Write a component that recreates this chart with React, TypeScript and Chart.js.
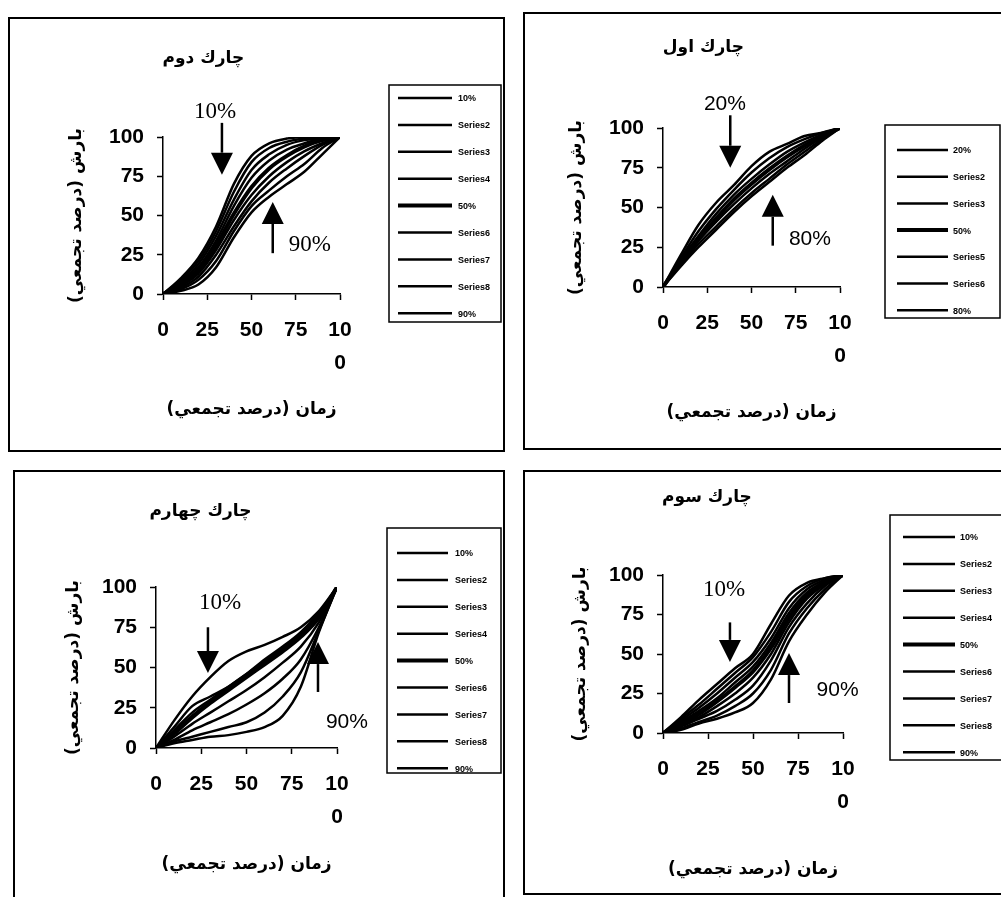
import React, { useEffect, useRef } from 'react';
import { Chart, registerables } from 'chart.js';

Chart.register(...registerables);

// ---------------- data ----------------
const xValues = [0, 10, 20, 30, 40, 50, 60, 70, 80, 90, 100];
const xTickLabels: (string | string[])[] = ['0', '25', '50', '75', ['10', '0']];
const yTickLabels = ['0', '25', '50', '75', '100'];

const yAxisTitle = 'بارش (درصد تجمعي)';
const xAxisTitle = 'زمان (درصد تجمعي)';

const nineLabels = ['10%', 'Series2', 'Series3', 'Series4', '50%', 'Series6', 'Series7', 'Series8', '90%'];
const sevenLabels = ['20%', 'Series2', 'Series3', '50%', 'Series5', 'Series6', '80%'];

// چارك اول (first quartile)
const q1Title = 'چارك اول';
const q1Values = [
  [0, 20, 39, 53, 64, 76, 85, 90, 95, 97, 100],
  [0, 18, 35, 49, 61, 72, 81, 88, 93, 97, 100],
  [0, 17, 32, 46, 58, 68, 77, 85, 91, 96, 100],
  [0, 16, 30, 43, 55, 65, 74, 82, 89, 95, 100],
  [0, 15, 29, 41, 52, 62, 71, 79, 87, 94, 100],
  [0, 14, 27, 38, 49, 59, 68, 77, 85, 93, 100],
  [0, 13, 25, 36, 47, 57, 66, 75, 83, 92, 100],
];
// چارك دوم (second quartile)
const q2Title = 'چارك دوم';
const q2Values = [
  [0, 10, 23, 43, 70, 88, 96, 99, 100, 100, 100],
  [0, 9, 21, 40, 65, 84, 93, 97, 99, 100, 100],
  [0, 8, 19, 37, 60, 79, 89, 95, 98, 99, 100],
  [0, 7, 17, 34, 56, 74, 85, 92, 96, 99, 100],
  [0, 6, 15, 31, 51, 68, 80, 88, 94, 98, 100],
  [0, 5, 13, 28, 47, 63, 75, 84, 91, 96, 100],
  [0, 4, 11, 25, 43, 59, 71, 80, 88, 95, 100],
  [0, 3, 9, 21, 40, 56, 66, 75, 83, 93, 100],
  [0, 2, 6, 17, 36, 52, 62, 70, 78, 89, 100],
];
// چارك سوم (third quartile)
const q3Title = 'چارك سوم';
const q3Values = [
  [0, 10, 21, 31, 41, 50, 69, 87, 95, 98, 100],
  [0, 9, 18, 28, 38, 48, 64, 83, 93, 98, 100],
  [0, 8, 16, 25, 35, 45, 60, 79, 91, 97, 100],
  [0, 7, 14, 22, 32, 42, 57, 76, 89, 96, 100],
  [0, 6, 12, 20, 29, 39, 54, 73, 87, 95, 100],
  [0, 5, 10, 17, 25, 35, 50, 70, 85, 94, 100],
  [0, 4, 9, 14, 21, 30, 46, 67, 82, 93, 100],
  [0, 3, 7, 11, 17, 25, 40, 63, 79, 91, 100],
  [0, 2, 6, 9, 13, 19, 34, 58, 75, 89, 100],
];
// چارك چهارم (fourth quartile)
const q4Title = 'چارك چهارم';
const q4Values = [
  [0, 17, 32, 44, 54, 60, 64, 69, 75, 85, 100],
  [0, 13, 26, 32, 38, 46, 55, 63, 72, 84, 100],
  [0, 11, 22, 30, 38, 46, 54, 62, 71, 83, 100],
  [0, 10, 20, 29, 37, 45, 53, 61, 70, 82, 100],
  [0, 9, 19, 28, 36, 44, 52, 60, 69, 81, 100],
  [0, 7, 15, 22, 29, 36, 44, 53, 63, 78, 100],
  [0, 5, 11, 16, 21, 27, 34, 43, 55, 75, 100],
  [0, 4, 7, 10, 13, 16, 22, 32, 47, 73, 100],
  [0, 3, 5, 7, 8, 10, 13, 20, 38, 72, 100],
];

// annotation arrows & notes (in data units)
const q1Arrows = [{ x: 38, from: 108, to: 75 }, { x: 62, from: 26, to: 58 }];
const q1Notes = [{ text: '20%', x: 35, y: 115 }, { text: '80%', x: 83, y: 30 }];
const q2Arrows = [{ x: 33.3, from: 109, to: 76 }, { x: 62, from: 26, to: 58.6 }];
const q2Notes = [{ text: '10%', x: 29.4, y: 116 }, { text: '90%', x: 83, y: 31 }];
const q3Arrows = [{ x: 37.2, from: 70, to: 45 }, { x: 70, from: 19, to: 50.6 }];
const q3Notes = [{ text: '10%', x: 34, y: 90.5 }, { text: '90%', x: 97, y: 27 }];
const q4Arrows = [{ x: 28.7, from: 75, to: 46.6 }, { x: 89.5, from: 34.8, to: 65.8 }];
const q4Notes = [{ text: '10%', x: 35.4, y: 90 }, { text: '90%', x: 105.5, y: 16 }];

// ---------------- styles / layout ----------------
const SANS = "'Liberation Sans', Arial, sans-serif";
const SERIF = "'Liberation Serif', 'Times New Roman', serif";
const ARABIC = "'DejaVu Sans', sans-serif";
const TITLE_SIZE = 17;
const AXIS_TITLE_SIZE = 17;
const HEAD_LEN = 22;
const HEAD_W = 22;

type Rect = [number, number, number, number];
interface PanelCfg {
  title: string;
  labels: string[];
  values: number[][];
  arrows: { x: number; from: number; to: number }[];
  notes: { text: string; x: number; y: number }[];
  noteFonts: string[];
  frame: Rect;
  canvas: Rect;
  area: Rect;
  titleY: number;
  yTitleX: number;
  xTitleY: number;
  legendBox: Rect;
  legendFirstY: number;
  legendStep: number;
  legendLine: [number, number];
  legendTextX: number;
}

const panels: PanelCfg[] = [
  {
    title: q2Title, labels: nineLabels, values: q2Values, arrows: q2Arrows, notes: q2Notes,
    noteFonts: [SERIF, SERIF],
    frame: [8, 17, 505, 452], canvas: [10, 19, 503, 450], area: [163, 137, 340, 294],
    titleY: 59, yTitleX: 77, xTitleY: 410,
    legendBox: [389, 85, 501, 322], legendFirstY: 98, legendStep: 26.9, legendLine: [398, 452], legendTextX: 458,
  },
  {
    title: q1Title, labels: sevenLabels, values: q1Values, arrows: q1Arrows, notes: q1Notes,
    noteFonts: [SANS, SANS],
    frame: [523, 12, 1015, 450], canvas: [525, 14, 1001, 448], area: [663, 128, 840, 287],
    titleY: 48, yTitleX: 577, xTitleY: 413,
    legendBox: [885, 125, 1000, 318], legendFirstY: 150, legendStep: 26.7, legendLine: [897, 948], legendTextX: 953,
  },
  {
    title: q4Title, labels: nineLabels, values: q4Values, arrows: q4Arrows, notes: q4Notes,
    noteFonts: [SERIF, SANS],
    frame: [13, 470, 505, 910], canvas: [15, 472, 503, 897], area: [156, 587, 337, 748],
    titleY: 512, yTitleX: 74, xTitleY: 865,
    legendBox: [387, 528, 501, 773], legendFirstY: 553, legendStep: 26.9, legendLine: [397, 448], legendTextX: 455,
  },
  {
    title: q3Title, labels: nineLabels, values: q3Values, arrows: q3Arrows, notes: q3Notes,
    noteFonts: [SERIF, SANS],
    frame: [523, 470, 1015, 895], canvas: [525, 472, 1001, 893], area: [663, 575, 843, 733],
    titleY: 498, yTitleX: 581, xTitleY: 870,
    legendBox: [890, 515, 1010, 760], legendFirstY: 537, legendStep: 26.9, legendLine: [903, 955], legendTextX: 960,
  },
];

function Panel({ cfg }: { cfg: PanelCfg }) {
  const ref = useRef<HTMLCanvasElement | null>(null);
  const [cl, ct, cr, cb] = cfg.canvas;

  useEffect(() => {
    const canvas = ref.current;
    if (!canvas) return;
    const [al, at, ar, ab] = cfg.area;
    const titleLH = TITLE_SIZE * 1.2;
    const axLH = AXIS_TITLE_SIZE * 1.2;
    const yScaleLeft = cfg.yTitleX - axLH / 2;
    const xScaleBottom = cfg.xTitleY + axLH / 2;
    const titlePadTop = cfg.titleY - titleLH / 2 - ct;
    const titlePadBottom = at - ct - titlePadTop - titleLH;

    const boxLegend = {
      id: 'boxLegend',
      afterDraw(chart: any) {
        const ctx = chart.ctx;
        ctx.save();
        const [bl, bt, br, bb] = cfg.legendBox;
        ctx.strokeStyle = '#000';
        ctx.lineWidth = 1.5;
        ctx.strokeRect(bl - cl, bt - ct, br - bl, bb - bt);
        chart.data.datasets.forEach((ds: any, i: number) => {
          const y = cfg.legendFirstY + i * cfg.legendStep - ct;
          ctx.beginPath();
          ctx.lineWidth = ds.borderWidth;
          ctx.moveTo(cfg.legendLine[0] - cl, y);
          ctx.lineTo(cfg.legendLine[1] - cl, y);
          ctx.stroke();
          ctx.fillStyle = '#000';
          ctx.font = `bold 9px ${SANS}`;
          ctx.textAlign = 'left';
          ctx.textBaseline = 'middle';
          ctx.fillText(ds.label, cfg.legendTextX - cl, y + 1);
        });
        ctx.restore();
      },
    };

    const arrowNotes = {
      id: 'arrowNotes',
      afterDraw(chart: any) {
        const { ctx } = chart;
        const xs = chart.scales.x;
        const ys = chart.scales.y;
        ctx.save();
        ctx.strokeStyle = '#000';
        ctx.fillStyle = '#000';
        cfg.arrows.forEach((a) => {
          const px = xs.getPixelForValue(a.x);
          const p0 = ys.getPixelForValue(a.from);
          const p1 = ys.getPixelForValue(a.to);
          const dir = Math.sign(p1 - p0);
          const base = p1 - dir * HEAD_LEN;
          ctx.beginPath();
          ctx.lineWidth = 2.5;
          ctx.moveTo(px, p0);
          ctx.lineTo(px, base);
          ctx.stroke();
          ctx.beginPath();
          ctx.moveTo(px - HEAD_W / 2, base);
          ctx.lineTo(px + HEAD_W / 2, base);
          ctx.lineTo(px, p1);
          ctx.closePath();
          ctx.fill();
        });
        cfg.notes.forEach((n, i) => {
          const serif = cfg.noteFonts[i] === SERIF;
          ctx.font = `${serif ? 23 : 21}px ${cfg.noteFonts[i]}`;
          ctx.textAlign = 'center';
          ctx.textBaseline = 'middle';
          ctx.fillText(n.text, xs.getPixelForValue(n.x), ys.getPixelForValue(n.y));
        });
        ctx.restore();
      },
    };

    const tickFont = { family: SANS, size: 21, weight: 'bold' as const };
    const axisTitleFont = { family: ARABIC, size: AXIS_TITLE_SIZE, weight: 'bold' as const, lineHeight: 1.2 };

    const chart = new Chart(canvas, {
      type: 'line',
      data: {
        datasets: cfg.labels.map((label, i) => ({
          label,
          data: cfg.values[i].map((v, j) => ({ x: xValues[j], y: v })),
          borderColor: '#000',
          backgroundColor: '#000',
          borderWidth: label === '50%' ? 4 : 2.5,
          pointRadius: 0,
          fill: false,
          cubicInterpolationMode: 'monotone' as const,
        })),
      },
      options: {
        animation: false,
        responsive: false,
        events: [],
        layout: {
          padding: { left: yScaleLeft - cl, right: cr - ar, top: 0, bottom: cb - xScaleBottom },
        },
        plugins: {
          legend: { display: false },
          tooltip: { enabled: false },
          title: {
            display: true,
            text: cfg.title,
            color: '#000',
            font: { family: ARABIC, size: TITLE_SIZE, weight: 'bold', lineHeight: 1.2 },
            padding: { top: titlePadTop, bottom: titlePadBottom },
          },
        },
        scales: {
          x: {
            type: 'linear',
            min: 0,
            max: 100,
            ticks: {
              stepSize: 25,
              autoSkip: false,
              maxRotation: 0,
              color: '#000',
              padding: 13,
              font: { ...tickFont, lineHeight: 1.6 },
              callback: (_v: any, i: number) => xTickLabels[i],
            },
            grid: { drawOnChartArea: false, drawTicks: true, tickLength: 6, tickColor: '#000', tickWidth: 1.5 },
            border: { display: true, color: '#000', width: 1.5 },
            title: { display: true, text: xAxisTitle, color: '#000', font: axisTitleFont, padding: 0 },
            afterFit: (s: any) => { s.height = xScaleBottom - ab; },
          },
          y: {
            type: 'linear',
            min: 0,
            max: 100,
            ticks: {
              stepSize: 25,
              color: '#000',
              padding: 13,
              font: { ...tickFont, lineHeight: 1.2 },
              callback: (_v: any, i: number) => yTickLabels[i],
            },
            grid: { drawOnChartArea: false, drawTicks: true, tickLength: 6, tickColor: '#000', tickWidth: 1.5 },
            border: { display: true, color: '#000', width: 1.5 },
            title: { display: true, text: yAxisTitle, color: '#000', font: axisTitleFont, padding: 0 },
            afterFit: (s: any) => { s.width = al - yScaleLeft; },
          },
        },
      },
      plugins: [boxLegend, arrowNotes],
    } as any);

    return () => chart.destroy();
  }, [cfg]);

  return (
    <canvas
      ref={ref}
      dir="rtl"
      width={cr - cl}
      height={cb - ct}
      style={{ position: 'absolute', left: cl, top: ct, width: cr - cl, height: cb - ct }}
    />
  );
}

export default function App() {
  return (
    <div
      style={{
        position: 'fixed', left: 0, top: 0, width: 1001, height: 897,
        background: '#fff', overflow: 'hidden',
      }}
    >
      {panels.map((p, i) => (
        <div
          key={'f' + i}
          style={{
            position: 'absolute', left: p.frame[0], top: p.frame[1],
            width: p.frame[2] - p.frame[0], height: p.frame[3] - p.frame[1],
            border: '2px solid #000', boxSizing: 'border-box',
          }}
        />
      ))}
      {panels.map((p, i) => (
        <Panel key={'c' + i} cfg={p} />
      ))}
    </div>
  );
}
